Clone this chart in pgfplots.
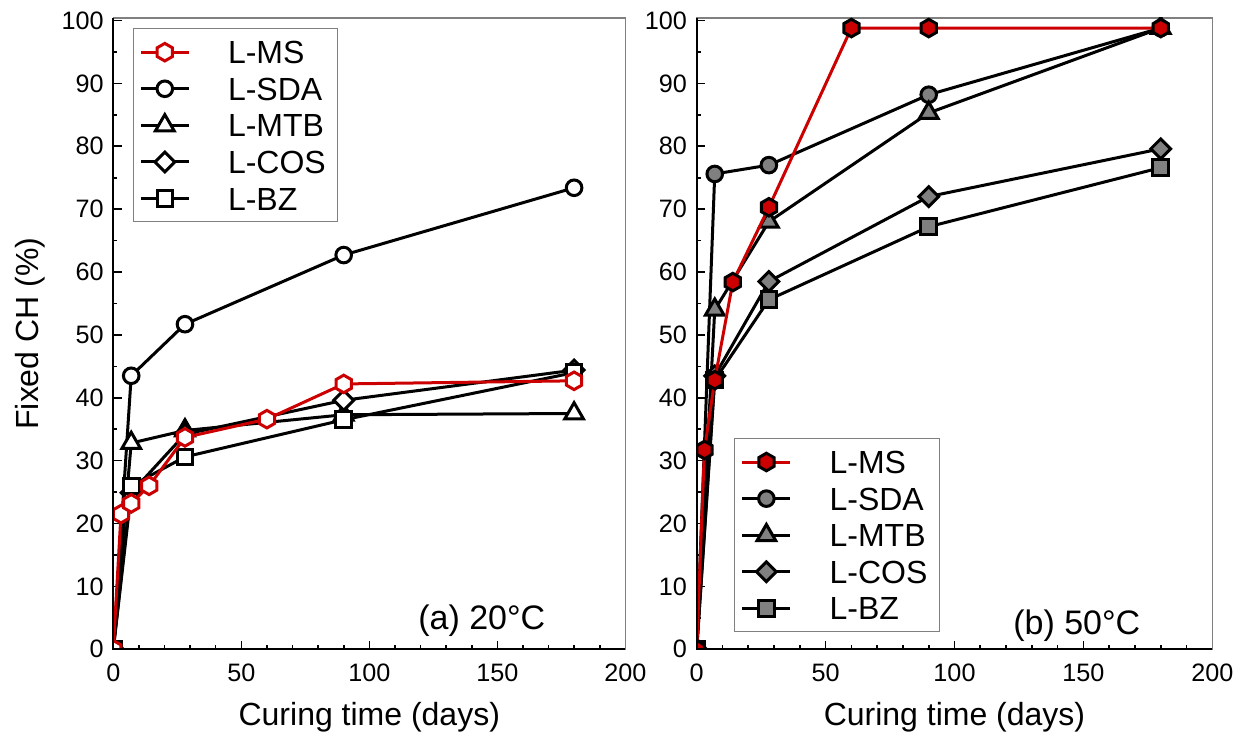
\documentclass[border=0pt]{standalone}
\usepackage{fontspec}
\setmainfont{Liberation Sans}
\usepackage{pgfplots}
\pgfplotsset{compat=1.18}
\definecolor{myred}{RGB}{204,0,0}
\definecolor{mygray}{RGB}{128,128,128}
\pgfdeclareplotmark{hexagon}{%
  \pgfpathmoveto{\pgfqpointpolar{90}{\pgfplotmarksize}}%
  \pgfpathlineto{\pgfqpointpolar{150}{\pgfplotmarksize}}%
  \pgfpathlineto{\pgfqpointpolar{210}{\pgfplotmarksize}}%
  \pgfpathlineto{\pgfqpointpolar{270}{\pgfplotmarksize}}%
  \pgfpathlineto{\pgfqpointpolar{330}{\pgfplotmarksize}}%
  \pgfpathlineto{\pgfqpointpolar{30}{\pgfplotmarksize}}%
  \pgfpathclose
  \pgfusepathqfillstroke}
\tikzset{
  base/.style={line width=1.5pt},
  ms/.style={base, mark=hexagon, mark size=4.4pt},
  sda/.style={base, mark=*, mark size=3.9pt},
  mtb/.style={base, mark=triangle*, mark size=5.4pt},
  cos/.style={base, mark=square*, mark size=3.5pt},
  bz/.style={base, mark=square*, mark size=3.9pt},
  wA/.style={black, mark options={fill=white, draw=black}},
  gB/.style={black, mark options={fill=mygray, draw=black}},
  wD/.style={black, mark options={fill=white, draw=black, rotate=45}},
  gD/.style={black, mark options={fill=mygray, draw=black, rotate=45}},
}
\pgfplotsset{
  scale only axis, height=315.65pt,
  xmin=0, xmax=200, ymin=0, ymax=100.4,
  xtick={0,50,...,200}, minor x tick num=4,
  ytick={0,10,...,100}, minor y tick num=1,
  tick align=inside, xtick pos=left, ytick pos=left,
  major tick length=4.2pt, minor tick length=2.1pt,
  every tick/.style={black, line width=0.8pt},
  axis line style={draw=mygray, line width=0.7pt},
  tick label style={font=\fontsize{12.6}{15}\selectfont},
  /pgf/number format/assume math mode=true,
  xticklabel style={anchor=base, yshift=-16.2pt},
  yticklabel style={anchor=east, inner xsep=0pt, xshift=-4.65pt},
  label style={font=\fontsize{16}{19}\selectfont},
  xlabel style={at={(rel axis cs:0.5,-0.1201)}, anchor=base},
  ylabel style={at={(rel axis cs:-0.1465,0.5)}, anchor=base},
  clip marker paths=true,
  legend cell align=left,
  legend style={draw=mygray, line width=0.6pt, font=\fontsize{16}{19}\selectfont,
    inner xsep=3pt, inner ysep=2.5pt,
    nodes={text height=11.5pt, text depth=0pt, inner xsep=3pt, inner ysep=3.4pt},
    /tikz/every odd column/.append style={column sep=15.85pt}},
  legend image code/.code={\draw[mark repeat=2,mark phase=2,#1] plot coordinates {(0pt,0pt) (12pt,0pt) (24pt,0pt)};},
}
\begin{document}
\begin{tikzpicture}
\begin{axis}[name=L, width=256pt, at={(0pt,0pt)}, anchor=south west,
  xlabel={Curing time (days)}, ylabel={Fixed CH (\%)},
  legend style={at={(0.0379,0.9837)}, anchor=north west}]
\addlegendimage{ms, myred, mark options={fill=white, draw=myred}}
\addlegendentry{L-MS}
\addlegendimage{sda, wA}
\addlegendentry{L-SDA}
\addlegendimage{mtb, wA}
\addlegendentry{L-MTB}
\addlegendimage{cos, wD}
\addlegendentry{L-COS}
\addlegendimage{bz, wA}
\addlegendentry{L-BZ}
\addplot[sda, wA, forget plot] coordinates {(0,0) (7,43.5) (28,51.7) (90,62.7) (180,73.4)};
\addplot[mtb, wA, forget plot] coordinates {(0,0) (7,32.8) (28,34.8) (90,37.3) (180,37.5)};
\addplot[cos, wD, forget plot] coordinates {(0,0) (7,24.9) (28,34.2) (90,39.6) (180,44.4)};
\addplot[bz, wA, forget plot] coordinates {(0,0) (7,26.0) (28,30.6) (90,36.5) (180,44.0)};
\addplot[ms, myred, mark options={fill=white, draw=myred}, forget plot] coordinates {(0,0) (3,21.5) (7,23.2) (14,26.0) (28,33.7) (60,36.6) (90,42.2) (180,42.7)};
\node[anchor=base east, inner sep=0pt, font=\fontsize{17}{20}\selectfont] at (rel axis cs:0.8445,0.0306) {(a) 20°C};
\end{axis}
\draw[black, line width=1pt] (L.north west) -- (L.south west) -- (L.south east);
\begin{axis}[name=R, width=257.8pt, at={(291.7pt,0pt)}, anchor=south west,
  xlabel={Curing time (days)},
  legend style={at={(0.0729,0.0269)}, anchor=south west}]
\addlegendimage{ms, myred, mark options={fill=myred, draw=black}}
\addlegendentry{L-MS}
\addlegendimage{sda, gB}
\addlegendentry{L-SDA}
\addlegendimage{mtb, gB}
\addlegendentry{L-MTB}
\addlegendimage{cos, gD}
\addlegendentry{L-COS}
\addlegendimage{bz, gB}
\addlegendentry{L-BZ}
\addplot[sda, gB, forget plot] coordinates {(0,0) (7,75.6) (28,77.0) (90,88.2) (180,98.8)};
\addplot[mtb, gB, forget plot] coordinates {(0,0) (7,54.0) (28,68.0) (90,85.3) (180,98.8)};
\addplot[cos, gD, forget plot] coordinates {(0,0) (7,43.5) (28,58.5) (90,72.0) (180,79.6)};
\addplot[bz, gB, forget plot] coordinates {(0,0) (7,42.8) (28,55.6) (90,67.2) (180,76.6)};
\addplot[ms, myred, mark options={fill=myred, draw=black}, forget plot] coordinates {(0,0) (3,31.7) (7,42.8) (14,58.4) (28,70.3) (60,98.8) (90,98.8) (180,98.8)};
\node[anchor=base east, inner sep=0pt, font=\fontsize{17}{20}\selectfont] at (rel axis cs:0.8611,0.0242) {(b) 50°C};
\end{axis}
\draw[black, line width=1pt] (R.north west) -- (R.south west) -- (R.south east);
\pgfresetboundingbox
\useasboundingbox (-56.65pt,-42.35pt) rectangle (564.85pt,324.65pt);
\end{tikzpicture}
\end{document}
